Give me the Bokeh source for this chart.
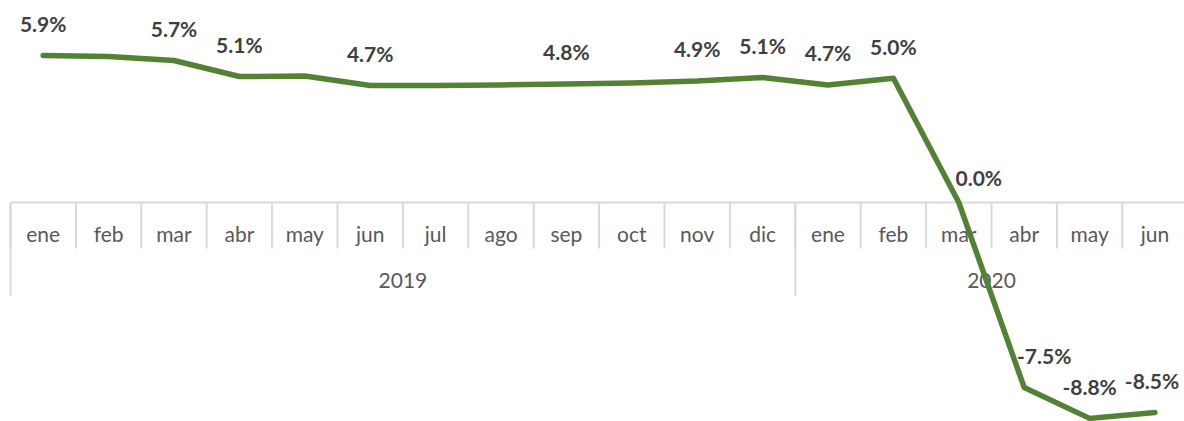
import numpy as np
from bokeh.plotting import figure
from bokeh.models import Range1d, ColumnDataSource
from bokeh.core.properties import value
from bokeh.embed import file_html
from bokeh.resources import INLINE

# ---- data ----
years = ["2019", "2020"]
months_2019 = ["ene", "feb", "mar", "abr", "may", "jun", "jul", "ago", "sep", "oct", "nov", "dic"]
months_2020 = ["ene", "feb", "mar", "abr", "may", "jun"]
growth = [5.95, 5.91, 5.75, 5.10, 5.12, 4.74, 4.74, 4.76, 4.80, 4.84, 4.92, 5.06,
          4.76, 5.03, 0.0, -7.49, -8.74, -8.50]
data_labels = ["5.9%", "", "5.7%", "5.1%", "", "4.7%", "", "", "4.8%", "", "4.9%", "5.1%",
               "4.7%", "5.0%", "0.0%", "-7.5%", "-8.8%", "-8.5%"]

# ---- derived positions ----
months = months_2019 + months_2020
n = len(months)
centers = np.arange(n) + 0.5
bounds = np.arange(n + 1)
year_sizes = [len(months_2019), len(months_2020)]
year_bounds = np.concatenate([[0], np.cumsum(year_sizes)])
year_centers = (year_bounds[:-1] + year_bounds[1:]) / 2

# label offsets (style, screen px)
lab_dx = [0] * n
lab_dy = [-32] * n
lab_dx[14], lab_dy[14] = 20, -25
lab_dx[15] = 20
lab_dx[17] = -3

W, H = 1184, 421
sx = 65.4
x0 = -10 / sx
x1 = x0 + W / sx
sy = 24.7
ytop = 202 / sy
ybot = ytop - H / sy

p = figure(width=W, height=H, x_range=Range1d(x0, x1), y_range=Range1d(ybot, ytop),
           output_backend="svg", toolbar_location=None, min_border=0,
           x_axis_location=None, y_axis_location=None)
p.grid.visible = False
p.outline_line_color = None
p.background_fill_color = "white"
p.border_fill_color = "white"

axis_col = "#d9d9d9"
# category axis at y = 0
p.segment(x0=[bounds[0]], y0=[0], x1=[bounds[-1]], y1=[0], line_color=axis_col, line_width=2)
p.ray(x=bounds, y=0, length=46, length_units="screen", angle=-np.pi / 2,
      line_color=axis_col, line_width=2)
p.ray(x=year_bounds, y=0, length=93, length_units="screen", angle=-np.pi / 2,
      line_color=axis_col, line_width=2)
p.text(x=centers, y=0, text=months, y_offset=31, text_align="center", text_baseline="middle",
       text_font=value("Lato"), text_font_size="21px", text_color="#595959")
p.text(x=year_centers, y=0, text=years, y_offset=78, text_align="center", text_baseline="middle",
       text_font=value("Lato"), text_font_size="21px", text_color="#595959")

# series
p.line(centers, growth, line_color="#548235", line_width=5.5, line_join="round", line_cap="round")

src = ColumnDataSource(dict(x=centers, y=growth, t=data_labels, dx=lab_dx, dy=lab_dy))
p.text(x="x", y="y", text="t", x_offset="dx", y_offset="dy", source=src,
       text_align="center", text_baseline="middle", text_font=value("Lato"),
       text_font_style="bold", text_font_size="21px", text_color="#404040")

open("out.html", "w").write(file_html(p, INLINE))
